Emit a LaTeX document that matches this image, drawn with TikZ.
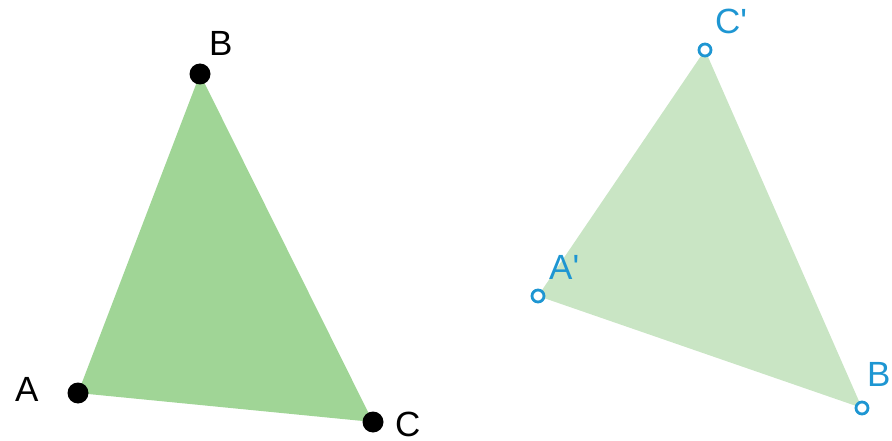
\documentclass[tikz,border=0pt]{standalone}
\usepackage{fontspec}
\setmainfont{Liberation Sans}
\definecolor{fillA}{HTML}{A0D596}
\definecolor{fillB}{HTML}{C9E5C4}
\definecolor{ptblue}{HTML}{1E96D2}
\tikzset{
  dotpt/.style={circle,fill=black,inner sep=0pt,minimum size=21pt},
  ringpt/.style={circle,draw=ptblue,fill=white,line width=2.8pt,inner sep=0pt,minimum size=12pt},
  lbl/.style={inner sep=0pt,anchor=base west,font=\fontsize{35}{40}\selectfont},
  bluelbl/.style={lbl,text=ptblue}
}
\begin{document}
\begin{tikzpicture}[x=1pt,y=-1pt]
\useasboundingbox (0,0) rectangle (892,441);
% left triangle
\coordinate (A) at (78,393);
\coordinate (B) at (200,74);
\coordinate (C) at (373,422);
\fill[fillA] (A) -- (B) -- (C) -- cycle;
\node[dotpt] (dA) at (A) {};
\node[dotpt] (dB) at (B) {};
\node[dotpt] (dC) at (C) {};
\node[lbl] (lA) at (15,401) {A};
\node[lbl] (lB) at (209,56) {B};
\node[lbl] (lC) at (395,436) {C};
% right triangle
\coordinate (A2) at (538,296);
\coordinate (C2) at (705,50);
\coordinate (B2) at (862,408);
\fill[fillB] (A2) -- (C2) -- (B2) -- cycle;
\node[ringpt] (rA) at (A2) {};
\node[ringpt] (rC) at (C2) {};
\node[ringpt] (rB) at (B2) {};
\node[bluelbl] (lA2) at (549,279) {A\textquotesingle};
\node[bluelbl] (lC2) at (715,34) {C\textquotesingle};
\node[bluelbl] (lB2) at (867,386) {B\textquotesingle};
\end{tikzpicture}
\end{document}
